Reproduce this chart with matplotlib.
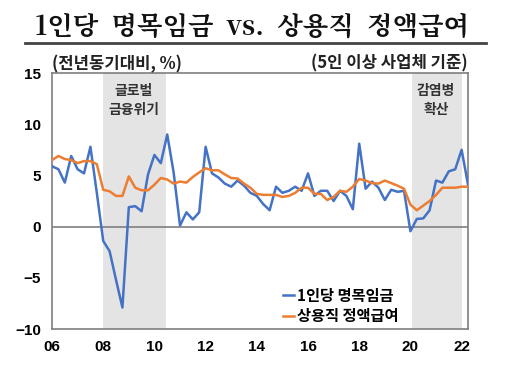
import numpy as np
import matplotlib.pyplot as plt

plt.rcParams['font.family'] = ['Noto Sans CJK KR', 'DejaVu Sans']

# quarterly data, 2006Q1 - 2022Q2
start_year = 2006
nominal_wage = [5.9, 5.6, 4.3, 6.9, 5.6, 5.2, 7.8, 3.3,
                -1.4, -2.4, -5.2, -7.9, 1.9, 2.0, 1.5, 5.1,
                7.0, 6.2, 9.0, 5.3, 0.1, 1.4, 0.7, 1.4,
                7.8, 5.2, 4.8, 4.2, 3.9, 4.5, 4.0, 3.3,
                3.0, 2.2, 1.6, 3.9, 3.3, 3.5, 3.9, 3.5,
                5.2, 3.0, 3.5, 3.5, 2.5, 3.5, 3.0, 1.7,
                8.1, 3.7, 4.4, 3.8, 2.6, 3.6, 3.4, 3.5,
                -0.45, 0.75, 0.8, 1.6, 4.5, 4.3, 5.4, 5.6,
                7.5, 4.1]
regular_pay = [6.5, 6.9, 6.6, 6.5, 6.2, 6.4, 6.4, 6.1,
               3.6, 3.45, 3.0, 3.0, 4.9, 3.8, 3.55, 3.55,
               4.1, 4.75, 4.6, 4.2, 4.4, 4.3, 4.85, 5.3,
               5.7, 5.5, 5.5, 5.1, 4.75, 4.7, 4.2, 3.8,
               3.2, 3.1, 3.1, 3.1, 2.9, 3.0, 3.3, 3.8,
               3.8, 3.2, 3.2, 2.6, 2.9, 3.5, 3.4, 3.9,
               4.65, 4.5, 4.25, 4.2, 4.5, 4.25, 4.0, 3.7,
               2.15, 1.6, 2.05, 2.5, 3.1, 3.8, 3.8, 3.8,
               3.9, 3.9]
xticks = [2006, 2008, 2010, 2012, 2014, 2016, 2018, 2020, 2022]
xticklabels = ['06', '08', '10', '12', '14', '16', '18', '20', '22']
yticks = [-10, -5, 0, 5, 10, 15]

t = start_year + np.arange(len(nominal_wage)) / 4

fig = plt.figure(figsize=(5.12, 3.67), dpi=100)
ax = fig.add_axes([0.1016, 0.1035, 0.8125, 0.6975])

# shaded periods
ax.axvspan(2008.0, 2010.45, color='#e4e4e4', lw=0, zorder=0)
ax.axvspan(2020.05, 2022.0, color='#e4e4e4', lw=0, zorder=0)
ax.text(2009.2, 12.3, '글로벌\n금융위기', ha='center', va='center',
        fontsize=10, fontweight='bold', color='#333333', linespacing=1.45)
ax.text(2021.0, 12.3, '감염병\n확산', ha='center', va='center',
        fontsize=10, fontweight='bold', color='#333333', linespacing=1.45)

ax.axhline(0, color='#7f7f7f', lw=1.2, zorder=1)
ax.plot(t, nominal_wage, color='#4472C4', lw=1.8, label='1인당 명목임금', zorder=3)
ax.plot(t, regular_pay, color='#ED7D31', lw=1.8, label='상용직 정액급여', zorder=4)

ax.set_xlim(2006, 2022.25)
ax.set_ylim(-10, 15)
ax.set_xticks(xticks)
ax.set_xticklabels(xticklabels)
ax.set_yticks(yticks)
ax.tick_params(length=0, labelsize=11, pad=8)
for lab in ax.get_xticklabels() + ax.get_yticklabels():
    lab.set_fontweight('bold')
    lab.set_family(['Liberation Sans', 'DejaVu Sans'])
for s in ax.spines.values():
    s.set_color('#7f7f7f')
    s.set_linewidth(1.2)

leg = ax.legend(loc='lower right', bbox_to_anchor=(0.865, -0.035), frameon=False,
                handlelength=0.75, handletextpad=0.15,
                labelspacing=0.3, prop={'weight': 'bold', 'size': 11})

fig.text(0.102, 0.826, '(전년동기대비, %)', fontsize=12, fontweight='bold',
         color='#222222', va='center')
fig.text(0.914, 0.826, '(5인 이상 사업체 기준)', fontsize=12, fontweight='bold',
         color='#222222', va='center', ha='right')

# title with underline
fig.text(0.493, 0.925, '1인당  명목임금  vs.  상용직  정액급여', ha='center', va='center',
         fontsize=19, fontweight='bold', color='#111111',
         family=['Noto Serif CJK KR', 'Noto Sans CJK KR', 'DejaVu Serif'])
fig.add_artist(plt.Line2D([0.049, 0.949], [0.883, 0.883], color='#444444', lw=2))

fig.savefig('out.png', dpi=100)
